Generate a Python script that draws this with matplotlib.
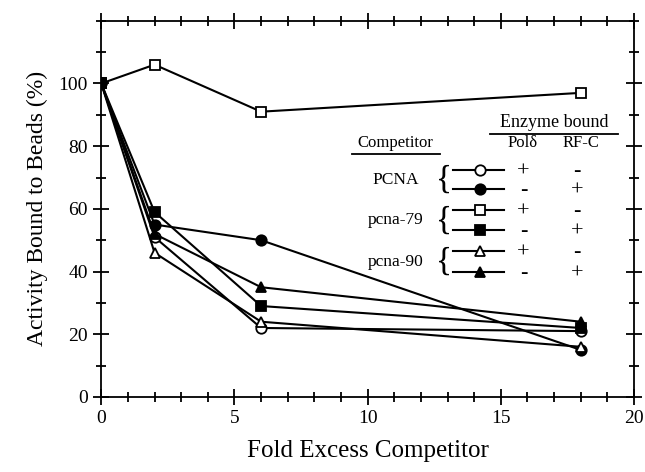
import numpy as np
import matplotlib
matplotlib.use('Agg')
import matplotlib.pyplot as plt
from matplotlib.ticker import MultipleLocator

plt.rcParams['font.family'] = ['Liberation Serif', 'DejaVu Serif']

# data
x_fold = [0, 2, 6, 18]
pcna_pol = [100, 51, 22, 21]    # open circle
pcna_rfc = [100, 55, 50, 15]    # filled circle
p79_pol = [100, 106, 91, 97]    # open square
p79_rfc = [100, 59, 29, 22]     # filled square
p90_pol = [100, 46, 24, 16]     # open triangle
p90_rfc = [100, 52, 35, 24]     # filled triangle

competitors = ['PCNA', 'pcna-79', 'pcna-90']
pol_signs = ['+', '-', '+', '-', '+', '-']
rfc_signs = ['-', '+', '-', '+', '-', '+']

series = [
    (pcna_pol, 'o', 'white'),
    (pcna_rfc, 'o', 'black'),
    (p79_pol, 's', 'white'),
    (p79_rfc, 's', 'black'),
    (p90_pol, '^', 'white'),
    (p90_rfc, '^', 'black'),
]

fig = plt.figure(figsize=(6.45, 4.72), dpi=100)
ax = fig.add_axes([0.157, 0.159, 0.826, 0.797])

for vals, mk, fc in series:
    ax.plot(x_fold, vals, color='black', lw=1.5, marker=mk, ms=7.5,
            mfc=fc, mec='black', mew=1.3)

ax.set_xlim(0, 20)
ax.set_ylim(0, 120)
ax.xaxis.set_major_locator(MultipleLocator(5))
ax.xaxis.set_minor_locator(MultipleLocator(1))
ax.set_yticks([0, 20, 40, 60, 80, 100])
ax.yaxis.set_minor_locator(MultipleLocator(10))
ax.tick_params(which='both', direction='inout', top=True, right=True,
               width=1.3, labelsize=14)
ax.tick_params(which='major', length=12)
ax.tick_params(which='minor', length=7)
for s in ax.spines.values():
    s.set_linewidth(1.3)

ax.set_xlabel('Fold Excess Competitor', fontsize=18, labelpad=9)
ax.set_ylabel('Activity Bound to Beads (%)', fontsize=17, labelpad=8)

# hand-made legend table
ax.text(17.0, 87.6, 'Enzyme bound', ha='center', va='center', fontsize=13)
ax.plot([14.6, 19.4], [84, 84], color='black', lw=1.3)
ax.text(11.05, 81, 'Competitor', ha='center', va='center', fontsize=12)
ax.plot([9.4, 12.7], [77.4, 77.4], color='black', lw=1.3)
ax.text(15.8, 81, 'Pol\u03b4', ha='center', va='center', fontsize=12)
ax.text(18.0, 81, 'RF-C', ha='center', va='center', fontsize=12)

row_y = [72.3, 66.2, 59.6, 53.2, 46.5, 39.8]
sign_fs = 16
for i, (vals, mk, fc) in enumerate(series):
    y = row_y[i]
    ax.plot([13.2, 15.1], [y, y], color='black', lw=1.5)
    ax.plot([14.2], [y], marker=mk, ms=7.5, mfc=fc, mec='black', mew=1.3)
    for xs, sg in ((15.85, pol_signs[i]), (17.85, rfc_signs[i])):
        ax.annotate(sg, (xs, y), xytext=(0, -0.27 * sign_fs),
                    textcoords='offset points', ha='center', va='baseline',
                    fontsize=sign_fs)

for j, name in enumerate(competitors):
    yc = (row_y[2 * j] + row_y[2 * j + 1]) / 2
    ax.text(11.05, yc, name, ha='center', va='center', fontsize=12.5)
    ax.text(12.85, yc, '{', ha='center', va='center', fontsize=24)

fig.savefig('out.png', dpi=100)
